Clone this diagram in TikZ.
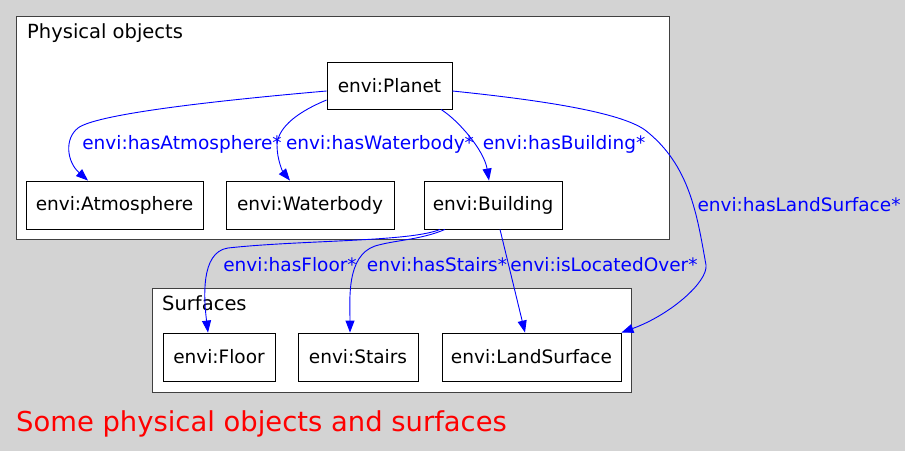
\documentclass[tikz,border=0pt]{standalone}
\usepackage{fontspec}
\setmainfont{DejaVu Sans}
\usetikzlibrary{arrows.meta}
\definecolor{bggray}{RGB}{211,211,211}
\definecolor{eblue}{RGB}{0,0,255}
\definecolor{tred}{RGB}{255,0,0}
\begin{document}
\begin{tikzpicture}[x=1pt,y=-1pt,
  cluster/.style={draw=black!75,line width=1pt,fill=white,inner sep=0pt},
  cls/.style={anchor=base west,inner sep=0pt,font=\fontsize{19.5}{22}\selectfont},
  box/.style={draw=black,line width=0.9pt,fill=white,inner sep=0pt,minimum height=48pt,font=\fontsize{18.5}{22}\selectfont},
  elab/.style={inner sep=0pt,text=eblue,font=\fontsize{18.5}{22}\selectfont},
  edge/.style={draw=eblue,line width=0.9pt,-{Triangle[length=12pt,width=9pt]}}]
\useasboundingbox[fill=bggray] (0,0) rectangle (905,451);
% clusters
\node[cluster,minimum width=653pt,minimum height=223pt] (c1) at (342.5,127.5) {};
\node[cls] (c1l) at (27,38) {Physical objects};
\node[cluster,minimum width=479pt,minimum height=104pt] (c2) at (391.5,340) {};
\node[cls] (c2l) at (162,310) {Surfaces};
% nodes
\node[box,minimum width=125pt,minimum height=47pt] (P) at (389.5,85.5) {envi:Planet};
\node[box,minimum width=177pt] (A) at (114.5,205) {envi:Atmosphere};
\node[box,minimum width=168pt] (W) at (310,205) {envi:Waterbody};
\node[box,minimum width=138pt] (B) at (493,205) {envi:Building};
\node[box,minimum width=112pt] (F) at (219,357) {envi:Floor};
\node[box,minimum width=120pt] (S) at (358,357) {envi:Stairs};
\node[box,minimum width=179pt] (L) at (531.5,357) {envi:LandSurface};
% edges
\draw[edge] ([yshift=-5.5pt]P.west) .. controls (200,102) and (95,115) .. (78,128)
  .. controls (64,139) and (67,162) .. ([xshift=-26.5pt]A.north);
\draw[edge] ([yshift=-14.5pt]P.west) .. controls (300,111) and (278,126) .. (277,145)
  .. controls (277,160) and (283,172) .. ([xshift=-20pt]W.north);
\draw[edge] ([xshift=51.5pt]P.south) .. controls (458,120) and (484,150) .. ([xshift=-4pt]B.north);
\draw[edge] ([yshift=-5.5pt]P.east) .. controls (540,100) and (620,112) .. (645,130)
  .. controls (690,165) and (697,215) .. (706,265)
  .. controls (708,282) and (670,315) .. (L.north east);
\draw[edge] ([xshift=-53pt]B.south) .. controls (410,242) and (300,240) .. (228,248)
  .. controls (200,252) and (204,300) .. ([xshift=-11pt]F.north);
\draw[edge] ([xshift=-48pt]B.south) .. controls (420,240) and (395,240) .. (375,246)
  .. controls (346,256) and (350,300) .. ([xshift=-8pt]S.north);
\draw[edge] ([xshift=7pt]B.south) -- ([xshift=-6.5pt]L.north);
% edge labels
\node[elab] (l1) at (182,144) {envi:hasAtmosphere*};
\node[elab] (l2) at (380,144) {envi:hasWaterbody*};
\node[elab] (l3) at (564,144) {envi:hasBuilding*};
\node[elab] (l4) at (799,205) {envi:hasLandSurface*};
\node[elab] (l5) at (290,265) {envi:hasFloor*};
\node[elab] (l6) at (437,265) {envi:hasStairs*};
\node[elab] (l7) at (604,265) {envi:isLocatedOver*};
% title
\node[anchor=base west,inner sep=0pt,text=tred,font=\fontsize{27.4}{30}\selectfont] (title) at (16,431) {Some physical objects and surfaces};
\end{tikzpicture}
\end{document}
